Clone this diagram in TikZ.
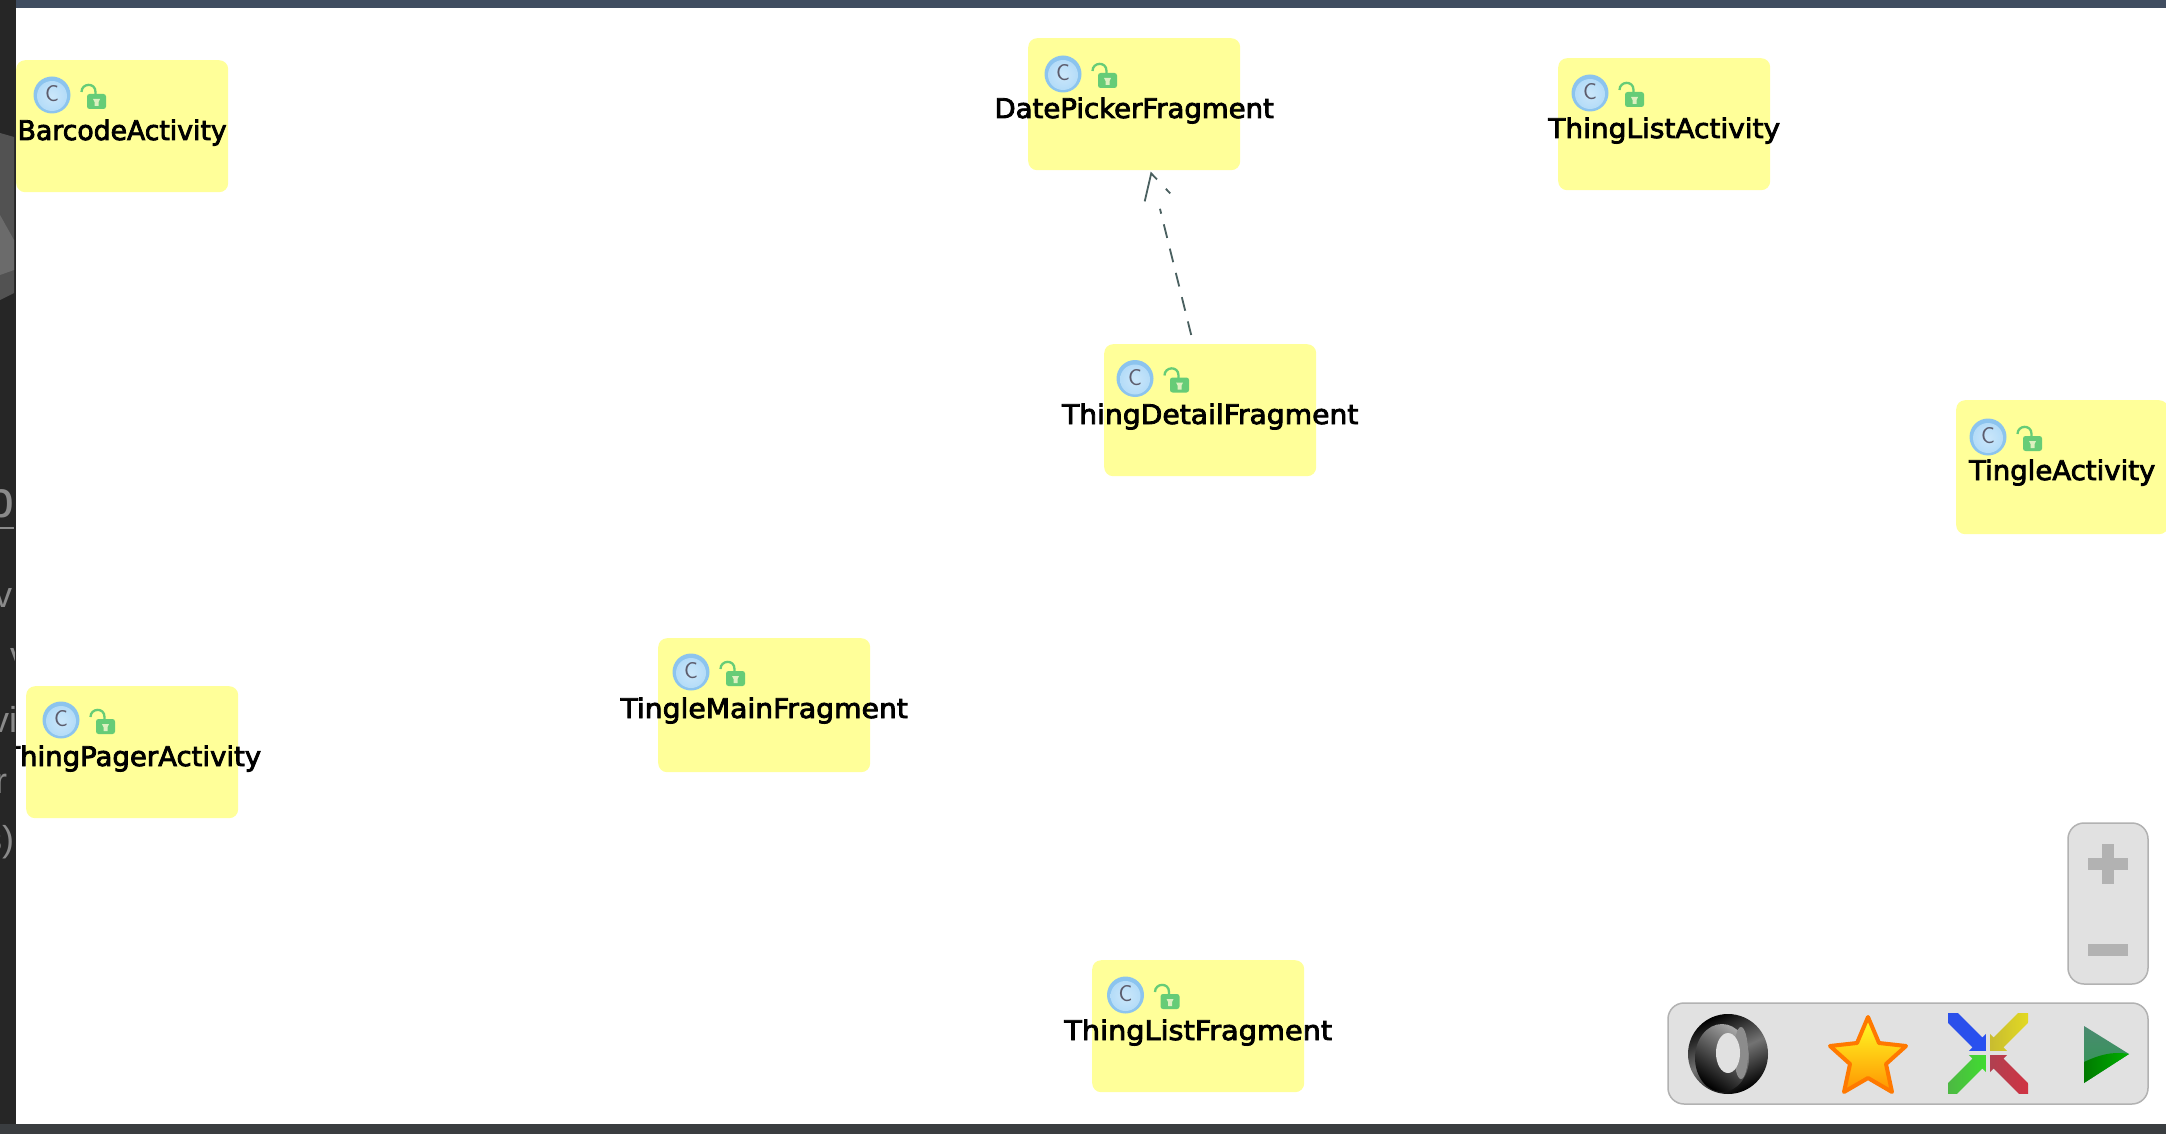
\documentclass[tikz,border=0pt]{standalone}
\usepackage{fontspec}
\usetikzlibrary{calc}
\newfontfamily\clsfont[FakeBold=3]{DejaVu Sans}
\newfontfamily\sidefont{Liberation Sans}
\definecolor{boxy}{HTML}{FFFF99}
\definecolor{panelg}{HTML}{E1E1E1}
\definecolor{panelb}{HTML}{B2B2B2}
\definecolor{edgec}{HTML}{4A6060}
\definecolor{lockg}{HTML}{66CC77}
\definecolor{lockk}{HTML}{DDF0C0}
\definecolor{badgeo}{HTML}{8CC4EE}
\definecolor{badgei}{HTML}{B4DCF8}
\definecolor{badgec}{HTML}{5C5C6C}
\definecolor{sidebar}{HTML}{262626}
\definecolor{topbar}{HTML}{404D60}
\definecolor{botbar}{HTML}{3A3D40}
\definecolor{sidetxt}{HTML}{8A8A8A}
\tikzset{
  classbox/.style={fill=boxy,draw=none,anchor=north west,inner sep=0pt,minimum width=212pt,minimum height=132pt,rounded corners=9pt},
  classname/.style={anchor=base,inner sep=0pt,text=black,font=\clsfont\fontsize{27}{30}\selectfont},
  dep/.style={edgec,line width=1.8pt},
  toolpanel/.style={fill=panelg,draw=panelb,line width=1.5pt,rounded corners=16pt},
  sidetext/.style={text=sidetxt,anchor=base west,inner sep=0pt,font=\sidefont\fontsize{36}{40}\selectfont}
}
% #1 box options, #2 name, #3 x, #4 y, #5 text, #6 badge dx, #7 badge dy, #8 text width factor
\newcommand{\classnode}[8][]{%
  \node[classbox,#1] (#2) at (#3,#4) {};
  \begin{scope}[shift={(#3,#4)},shift={(#6,#7)}]
    \fill[badgeo] (0,0) circle (18.5);
    \shade[inner color=badgei!70!white,outer color=badgei] (0,1) circle (15);
    \node[inner sep=0pt,text=badgec,font=\sffamily\fontsize{23}{24}\selectfont] at (0,-1) {C};
    \fill[lockg,rounded corners=2.5pt] (35,-1) rectangle (54,14);
    \draw[lockg,line width=2.3pt] (29.5,-3) .. controls (29.5,-12) and (43.5,-13) .. (43.5,-3) -- ++(0,3);
    \fill[lockk] (41,4) -- ++(7,0) -- ++(-1.5,3) -- ++(0,4) -- ++(-4,0) -- ++(0,-4) -- cycle;
  \end{scope}
  \node[classname] (#2t) at ($(#2.north)+(0,80)$) {\scalebox{#8}[1]{#5}};
}
\begin{document}
\begin{tikzpicture}[x=1pt,y=-1pt]
\useasboundingbox (0,0) rectangle (2166,1134);
\fill[white] (0,0) rectangle (2166,1134);
% class nodes
\classnode{barcode}{16}{60}{BarcodeActivity}{36}{35}{0.987}
\classnode{datepicker}{1028}{38}{DatePickerFragment}{35}{36}{1.02}
\classnode{listact}{1558}{58}{ThingListActivity}{32}{35}{1.037}
\classnode{detail}{1104}{344}{ThingDetailFragment}{31}{34.5}{1.044}
\classnode[minimum height=134pt]{tingleact}{1956}{400}{TingleActivity}{32}{37}{1.02}
\classnode[minimum height=134pt]{tinglemain}{658}{638}{TingleMainFragment}{33}{34}{1.045}
\classnode{pager}{26}{686}{ThingPagerActivity}{35}{34}{1.02}
\classnode{listfrag}{1092}{960}{ThingListFragment}{33.5}{35}{1.065}
% dependency
\coordinate (deptip) at ($(datepicker.south)+(17,3)$);
\coordinate (depbarbl) at ($(deptip)+(-6.5,28)$);
\coordinate (depbarbr) at ($(deptip)+(19,20)$);
\draw[dep,dash pattern=on 14pt off 11pt on 14pt off 11pt on 14pt off 11pt on 14pt off 11pt on 14pt off 11pt on 5pt off 60pt]
  ($(detail.north)+(-19,-9)$) -- (deptip);
\draw[dep,dash pattern=on 37pt off 13pt on 9pt off 20pt] (depbarbl) -- (deptip) -- (depbarbr);
% side strip of the window behind
\fill[sidebar] (0,0) rectangle (16,1134);
\fill[black!68] (0,133) -- (14,137) -- (14,293) -- (0,300) -- cycle;
\fill[black!58] (0,215) -- (14,240) -- (14,270) -- (0,275) -- cycle;
\begin{scope}
  \clip (0,0) rectangle (14,1134);
  \node[sidetext,font=\sidefont\fontsize{52}{56}\selectfont] at (-15,517) {p};
  \fill[sidetxt] (0,526.5) rectangle (14,529);
  \node[sidetext] at (-6,607) {v};
  \begin{scope}
    \clip (0,640) rectangle (14,663);
    \node[sidetext] at (10,667) {v};
  \end{scope}
  \node[sidetext] at (-9,732) {vi};
  \node[sidetext] at (-5,793) {r};
  \node[sidetext] at (-16,851) {s)};
\end{scope}
% frame bars
\fill[topbar] (16,0) rectangle (2166,8);
\fill[botbar] (0,1124) rectangle (2166,1134);
% zoom panel
\draw[toolpanel] (2068,823) rectangle (2148,984);
\fill[panelb] (2088,858) rectangle (2128,870);
\fill[panelb] (2102,844) rectangle (2114,884);
\fill[panelb] (2088,944) rectangle (2128,956);
% tool panel
\draw[toolpanel] (1668,1003) rectangle (2148,1104);
% ring icon
\shade[left color=black,right color=black,middle color=black!55,shading angle=25] (1728,1054) circle (40);
\shade[top color=black!35,bottom color=black,shading angle=-35] (1722,1058) ellipse (27 and 34);
\fill[black!45] (1741,1053) ellipse (7 and 26);
\fill[panelg] (1728,1053) ellipse (12 and 20);
% star icon
\shade[top color=yellow!85!white,bottom color=orange!85!yellow,draw=orange!95!red,line width=4pt,line join=round]
  (1868,1017) -- (1879,1043) -- (1906,1046) -- (1886,1064) -- (1892,1092) -- (1868,1078)
  -- (1844,1092) -- (1850,1064) -- (1830,1046) -- (1857,1043) -- cycle;
% layout icon
\definecolor{ia}{HTML}{2850F0}\definecolor{ib}{HTML}{2C50E8}
\definecolor{ic}{HTML}{E8E020}\definecolor{id}{HTML}{C8BC30}
\definecolor{ie}{HTML}{D83040}\definecolor{if}{HTML}{B04050}
\definecolor{ig}{HTML}{40DC30}\definecolor{ih}{HTML}{50B048}
\begin{scope}
  \clip (1948,1013) rectangle (2028,1093);
  \foreach \ang/\cola/\colb in {-45/ib/ia, -135/id/ic, 135/if/ie, 45/ih/ig}{
    \begin{scope}[shift={(1988,1053)},rotate=\ang]
      \shade[left color=\cola,right color=\colb]
        (-3,0) -- (-15,-12) -- (-15,-7) -- (-62,-7) -- (-62,7) -- (-15,7) -- (-15,12) -- cycle;
    \end{scope}
  }
\end{scope}
% run icon
\definecolor{pa}{HTML}{4A8A70}\definecolor{pb}{HTML}{2E9A50}
\definecolor{pc}{HTML}{007A00}\definecolor{pd}{HTML}{00B000}
\shade[top color=pa,bottom color=pb] (2084,1026) -- (2129,1054) -- (2084,1083) -- cycle;
\shade[left color=pc,right color=pd] (2084,1062) .. controls (2105,1052) and (2118,1052) .. (2129,1054) -- (2084,1083) -- cycle;
\end{tikzpicture}
\end{document}
